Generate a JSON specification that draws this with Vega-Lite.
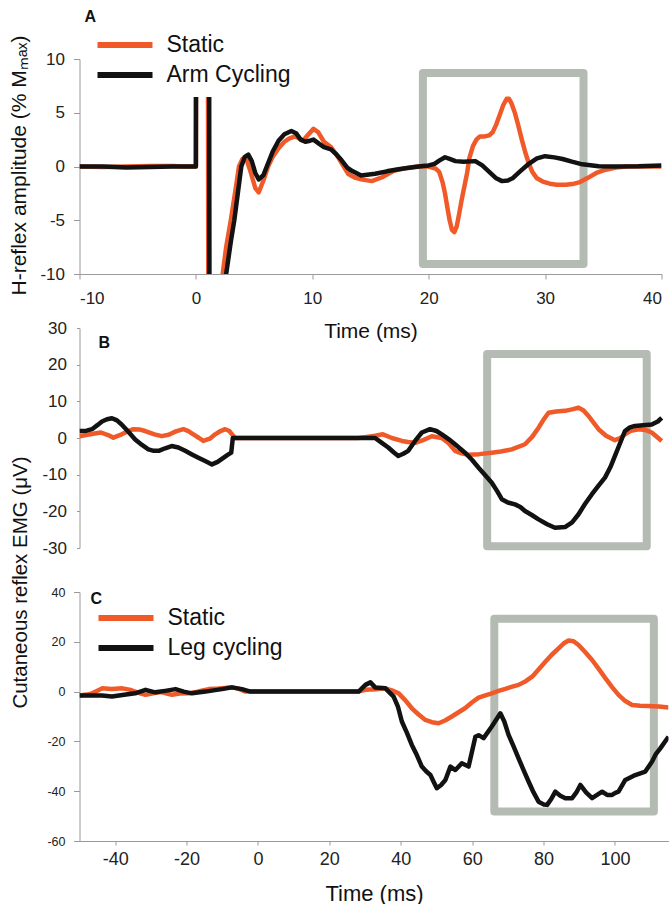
{
  "$schema": "https://vega.github.io/schema/vega-lite/v6.json",
  "autosize": {"type": "pad"},
  "padding": {"left": 7.5, "top": 9, "right": 0, "bottom": 0},
  "background": "white",
  "bounds": "flush",
  "spacing": 54,
  "resolve": {"scale": {"color": "independent"}, "legend": {"color": "independent"}},
  "config": {
    "font": "Liberation Sans",
    "view": {"stroke": null},
    "axis": {"grid": false, "domainColor": "#9a9a9a", "tickColor": "#9a9a9a", "labelColor": "#222222", "titleColor": "#111111", "titleFontWeight": "normal", "labelFont": "Liberation Sans", "titleFont": "Liberation Sans", "labelExpr": "replace(datum.label, '−', '-')"},
    "title": {"font": "Liberation Sans", "color": "#111111"}
  },
  "datasets": {
    "a": [
      {"s": "Static", "t": -10, "v": 0}, {"s": "Static", "t": -8, "v": -0.05}, {"s": "Static", "t": -6, "v": 0}, {"s": "Static", "t": -4, "v": 0.05}, {"s": "Static", "t": -2, "v": 0.05}, {"s": "Static", "t": -1, "v": 0}, {"s": "Static", "t": 0, "v": 0}, {"s": "Static", "t": 0.05, "v": 40}, {"s": "Static", "t": 1.0, "v": 40}, {"s": "Static", "t": 1.1, "v": -40}, {"s": "Static", "t": 1.8, "v": -40}, {"s": "Static", "t": 2.3, "v": -10}, {"s": "Static", "t": 2.6, "v": -7.5}, {"s": "Static", "t": 3.0, "v": -5}, {"s": "Static", "t": 3.4, "v": -2.2}, {"s": "Static", "t": 3.7, "v": 0}, {"s": "Static", "t": 4.0, "v": 0.7}, {"s": "Static", "t": 4.3, "v": 0.8}, {"s": "Static", "t": 4.7, "v": -0.5}, {"s": "Static", "t": 5.1, "v": -2}, {"s": "Static", "t": 5.4, "v": -2.4}, {"s": "Static", "t": 5.8, "v": -1.3}, {"s": "Static", "t": 6.2, "v": 0}, {"s": "Static", "t": 6.6, "v": 0.9}, {"s": "Static", "t": 7.1, "v": 1.7}, {"s": "Static", "t": 7.6, "v": 2.3}, {"s": "Static", "t": 8.0, "v": 2.6}, {"s": "Static", "t": 8.5, "v": 2.8}, {"s": "Static", "t": 8.9, "v": 2.6}, {"s": "Static", "t": 9.2, "v": 2.4}, {"s": "Static", "t": 9.6, "v": 2.9}, {"s": "Static", "t": 10.1, "v": 3.5}, {"s": "Static", "t": 10.5, "v": 3.2}, {"s": "Static", "t": 11.0, "v": 2.3}, {"s": "Static", "t": 11.6, "v": 1.8}, {"s": "Static", "t": 12.2, "v": 0.9}, {"s": "Static", "t": 12.7, "v": 0}, {"s": "Static", "t": 13.1, "v": -0.7}, {"s": "Static", "t": 13.6, "v": -1.0}, {"s": "Static", "t": 14.2, "v": -1.2}, {"s": "Static", "t": 15.1, "v": -1.36}, {"s": "Static", "t": 16.0, "v": -1.0}, {"s": "Static", "t": 17.0, "v": -0.4}, {"s": "Static", "t": 18.0, "v": -0.15}, {"s": "Static", "t": 19.0, "v": 0}, {"s": "Static", "t": 20.0, "v": 0}, {"s": "Static", "t": 20.6, "v": -0.2}, {"s": "Static", "t": 20.9, "v": -0.5}, {"s": "Static", "t": 21.2, "v": -1.5}, {"s": "Static", "t": 21.4, "v": -2.5}, {"s": "Static", "t": 21.6, "v": -3.8}, {"s": "Static", "t": 21.8, "v": -5}, {"s": "Static", "t": 22.0, "v": -5.9}, {"s": "Static", "t": 22.2, "v": -6.1}, {"s": "Static", "t": 22.4, "v": -5.6}, {"s": "Static", "t": 22.6, "v": -4.5}, {"s": "Static", "t": 22.8, "v": -3.3}, {"s": "Static", "t": 23.0, "v": -2.2}, {"s": "Static", "t": 23.3, "v": -0.6}, {"s": "Static", "t": 23.5, "v": 0.8}, {"s": "Static", "t": 23.8, "v": 1.9}, {"s": "Static", "t": 24.1, "v": 2.5}, {"s": "Static", "t": 24.4, "v": 2.8}, {"s": "Static", "t": 24.8, "v": 2.8}, {"s": "Static", "t": 25.2, "v": 2.9}, {"s": "Static", "t": 25.5, "v": 3.2}, {"s": "Static", "t": 25.8, "v": 3.9}, {"s": "Static", "t": 26.1, "v": 4.8}, {"s": "Static", "t": 26.4, "v": 5.7}, {"s": "Static", "t": 26.7, "v": 6.3}, {"s": "Static", "t": 26.9, "v": 6.3}, {"s": "Static", "t": 27.1, "v": 5.9}, {"s": "Static", "t": 27.4, "v": 5.0}, {"s": "Static", "t": 27.7, "v": 3.8}, {"s": "Static", "t": 28.0, "v": 2.5}, {"s": "Static", "t": 28.3, "v": 1.3}, {"s": "Static", "t": 28.6, "v": 0.3}, {"s": "Static", "t": 28.9, "v": -0.5}, {"s": "Static", "t": 29.3, "v": -1.1}, {"s": "Static", "t": 29.8, "v": -1.4}, {"s": "Static", "t": 30.4, "v": -1.6}, {"s": "Static", "t": 31.0, "v": -1.7}, {"s": "Static", "t": 31.8, "v": -1.7}, {"s": "Static", "t": 32.5, "v": -1.6}, {"s": "Static", "t": 33.0, "v": -1.45}, {"s": "Static", "t": 33.6, "v": -1.1}, {"s": "Static", "t": 34.4, "v": -0.6}, {"s": "Static", "t": 35.2, "v": -0.3}, {"s": "Static", "t": 36.1, "v": -0.1}, {"s": "Static", "t": 37, "v": 0}, {"s": "Static", "t": 38, "v": 0}, {"s": "Static", "t": 39, "v": 0}, {"s": "Static", "t": 40, "v": 0},
      {"s": "Arm Cycling", "t": -10, "v": 0}, {"s": "Arm Cycling", "t": -8, "v": 0}, {"s": "Arm Cycling", "t": -6, "v": -0.1}, {"s": "Arm Cycling", "t": -4, "v": -0.05}, {"s": "Arm Cycling", "t": -2, "v": 0}, {"s": "Arm Cycling", "t": 0, "v": 0}, {"s": "Arm Cycling", "t": 0.05, "v": 40}, {"s": "Arm Cycling", "t": 1.1, "v": 40}, {"s": "Arm Cycling", "t": 1.2, "v": -40}, {"s": "Arm Cycling", "t": 2.0, "v": -40}, {"s": "Arm Cycling", "t": 2.6, "v": -10}, {"s": "Arm Cycling", "t": 3.0, "v": -7}, {"s": "Arm Cycling", "t": 3.3, "v": -5}, {"s": "Arm Cycling", "t": 3.6, "v": -2.5}, {"s": "Arm Cycling", "t": 3.9, "v": 0}, {"s": "Arm Cycling", "t": 4.2, "v": 0.9}, {"s": "Arm Cycling", "t": 4.5, "v": 1.1}, {"s": "Arm Cycling", "t": 4.8, "v": 0.5}, {"s": "Arm Cycling", "t": 5.1, "v": -0.6}, {"s": "Arm Cycling", "t": 5.4, "v": -1.2}, {"s": "Arm Cycling", "t": 5.8, "v": -0.8}, {"s": "Arm Cycling", "t": 6.2, "v": 0.3}, {"s": "Arm Cycling", "t": 6.6, "v": 1.4}, {"s": "Arm Cycling", "t": 7.1, "v": 2.4}, {"s": "Arm Cycling", "t": 7.6, "v": 3.0}, {"s": "Arm Cycling", "t": 8.2, "v": 3.3}, {"s": "Arm Cycling", "t": 8.6, "v": 3.1}, {"s": "Arm Cycling", "t": 9.0, "v": 2.5}, {"s": "Arm Cycling", "t": 9.4, "v": 2.3}, {"s": "Arm Cycling", "t": 9.8, "v": 2.4}, {"s": "Arm Cycling", "t": 10.1, "v": 2.5}, {"s": "Arm Cycling", "t": 10.6, "v": 2.1}, {"s": "Arm Cycling", "t": 11.0, "v": 1.8}, {"s": "Arm Cycling", "t": 11.6, "v": 1.6}, {"s": "Arm Cycling", "t": 12.0, "v": 1.2}, {"s": "Arm Cycling", "t": 12.5, "v": 0.6}, {"s": "Arm Cycling", "t": 13.0, "v": -0.1}, {"s": "Arm Cycling", "t": 13.4, "v": -0.4}, {"s": "Arm Cycling", "t": 14.2, "v": -0.83}, {"s": "Arm Cycling", "t": 15.4, "v": -0.68}, {"s": "Arm Cycling", "t": 16.4, "v": -0.45}, {"s": "Arm Cycling", "t": 17.4, "v": -0.25}, {"s": "Arm Cycling", "t": 18.5, "v": -0.1}, {"s": "Arm Cycling", "t": 19.5, "v": 0.05}, {"s": "Arm Cycling", "t": 20.0, "v": 0.1}, {"s": "Arm Cycling", "t": 20.5, "v": 0.25}, {"s": "Arm Cycling", "t": 20.9, "v": 0.55}, {"s": "Arm Cycling", "t": 21.4, "v": 0.86}, {"s": "Arm Cycling", "t": 21.8, "v": 0.7}, {"s": "Arm Cycling", "t": 22.3, "v": 0.5}, {"s": "Arm Cycling", "t": 23.0, "v": 0.45}, {"s": "Arm Cycling", "t": 24.0, "v": 0.5}, {"s": "Arm Cycling", "t": 24.6, "v": 0.1}, {"s": "Arm Cycling", "t": 25.2, "v": -0.5}, {"s": "Arm Cycling", "t": 25.8, "v": -1.1}, {"s": "Arm Cycling", "t": 26.3, "v": -1.36}, {"s": "Arm Cycling", "t": 26.8, "v": -1.3}, {"s": "Arm Cycling", "t": 27.2, "v": -1.1}, {"s": "Arm Cycling", "t": 27.8, "v": -0.5}, {"s": "Arm Cycling", "t": 28.6, "v": 0.25}, {"s": "Arm Cycling", "t": 29.3, "v": 0.75}, {"s": "Arm Cycling", "t": 30.0, "v": 0.96}, {"s": "Arm Cycling", "t": 30.8, "v": 0.85}, {"s": "Arm Cycling", "t": 31.5, "v": 0.7}, {"s": "Arm Cycling", "t": 32.3, "v": 0.45}, {"s": "Arm Cycling", "t": 33.2, "v": 0.2}, {"s": "Arm Cycling", "t": 34.6, "v": 0.03}, {"s": "Arm Cycling", "t": 36, "v": 0}, {"s": "Arm Cycling", "t": 38, "v": 0.02}, {"s": "Arm Cycling", "t": 40, "v": 0.1}
    ],
    "b": [
      {"s": "Static", "t": -50, "v": 0.5}, {"s": "Static", "t": -47, "v": 1}, {"s": "Static", "t": -44, "v": 1.5}, {"s": "Static", "t": -42, "v": 0.8}, {"s": "Static", "t": -40.5, "v": 0.1}, {"s": "Static", "t": -38.2, "v": 1}, {"s": "Static", "t": -36.5, "v": 1.8}, {"s": "Static", "t": -34.9, "v": 2.4}, {"s": "Static", "t": -33, "v": 2.3}, {"s": "Static", "t": -31.6, "v": 1.9}, {"s": "Static", "t": -29, "v": 1.0}, {"s": "Static", "t": -27, "v": 0.5}, {"s": "Static", "t": -25, "v": 0.9}, {"s": "Static", "t": -23, "v": 1.8}, {"s": "Static", "t": -20.9, "v": 2.4}, {"s": "Static", "t": -19.5, "v": 1.9}, {"s": "Static", "t": -18.1, "v": 1}, {"s": "Static", "t": -16.5, "v": 0}, {"s": "Static", "t": -15.3, "v": -0.8}, {"s": "Static", "t": -13.5, "v": -0.2}, {"s": "Static", "t": -12, "v": 1}, {"s": "Static", "t": -10.5, "v": 1.9}, {"s": "Static", "t": -9.2, "v": 2.4}, {"s": "Static", "t": -8, "v": 1.9}, {"s": "Static", "t": -7.3, "v": 1}, {"s": "Static", "t": -6.4, "v": 0}, {"s": "Static", "t": 0, "v": 0}, {"s": "Static", "t": 10, "v": 0}, {"s": "Static", "t": 20, "v": 0}, {"s": "Static", "t": 28, "v": 0}, {"s": "Static", "t": 30.5, "v": 0.3}, {"s": "Static", "t": 32.8, "v": 0.6}, {"s": "Static", "t": 35, "v": 1}, {"s": "Static", "t": 37.5, "v": 0}, {"s": "Static", "t": 40.3, "v": -0.8}, {"s": "Static", "t": 42, "v": -1.1}, {"s": "Static", "t": 44, "v": -1.3}, {"s": "Static", "t": 46.5, "v": -0.5}, {"s": "Static", "t": 48.7, "v": 0.5}, {"s": "Static", "t": 51.5, "v": 0}, {"s": "Static", "t": 53.5, "v": -1.5}, {"s": "Static", "t": 55.2, "v": -3.5}, {"s": "Static", "t": 57, "v": -4.2}, {"s": "Static", "t": 59, "v": -4.6}, {"s": "Static", "t": 62, "v": -4.4}, {"s": "Static", "t": 65.5, "v": -4}, {"s": "Static", "t": 68, "v": -3.7}, {"s": "Static", "t": 71.1, "v": -3.1}, {"s": "Static", "t": 74.8, "v": -1.7}, {"s": "Static", "t": 76.8, "v": 0.3}, {"s": "Static", "t": 78.6, "v": 2.8}, {"s": "Static", "t": 80, "v": 5}, {"s": "Static", "t": 81.4, "v": 6.9}, {"s": "Static", "t": 83.5, "v": 7.2}, {"s": "Static", "t": 86, "v": 7.4}, {"s": "Static", "t": 88, "v": 7.8}, {"s": "Static", "t": 89.8, "v": 8.3}, {"s": "Static", "t": 91.2, "v": 7.5}, {"s": "Static", "t": 92.6, "v": 6}, {"s": "Static", "t": 94, "v": 4.2}, {"s": "Static", "t": 95.4, "v": 2.4}, {"s": "Static", "t": 97.5, "v": 0.6}, {"s": "Static", "t": 100, "v": -0.6}, {"s": "Static", "t": 101.5, "v": 0}, {"s": "Static", "t": 102.8, "v": 1}, {"s": "Static", "t": 104.5, "v": 2}, {"s": "Static", "t": 106.6, "v": 2.4}, {"s": "Static", "t": 108.5, "v": 2.2}, {"s": "Static", "t": 110.3, "v": 1.5}, {"s": "Static", "t": 113.1, "v": -0.8},
      {"s": "Arm Cycling", "t": -50, "v": 1.9}, {"s": "Arm Cycling", "t": -48, "v": 2.0}, {"s": "Arm Cycling", "t": -46.5, "v": 2.4}, {"s": "Arm Cycling", "t": -45, "v": 3.5}, {"s": "Arm Cycling", "t": -43.7, "v": 4.5}, {"s": "Arm Cycling", "t": -42.3, "v": 5.1}, {"s": "Arm Cycling", "t": -40.9, "v": 5.4}, {"s": "Arm Cycling", "t": -39.5, "v": 4.8}, {"s": "Arm Cycling", "t": -38.2, "v": 3.7}, {"s": "Arm Cycling", "t": -36.3, "v": 1.7}, {"s": "Arm Cycling", "t": -34.4, "v": -0.4}, {"s": "Arm Cycling", "t": -32.5, "v": -1.9}, {"s": "Arm Cycling", "t": -30.7, "v": -3.1}, {"s": "Arm Cycling", "t": -29.2, "v": -3.5}, {"s": "Arm Cycling", "t": -27.8, "v": -3.5}, {"s": "Arm Cycling", "t": -26, "v": -2.8}, {"s": "Arm Cycling", "t": -24.2, "v": -2.2}, {"s": "Arm Cycling", "t": -22.3, "v": -2.6}, {"s": "Arm Cycling", "t": -20.4, "v": -3.5}, {"s": "Arm Cycling", "t": -18.5, "v": -4.5}, {"s": "Arm Cycling", "t": -16.7, "v": -5.4}, {"s": "Arm Cycling", "t": -14.8, "v": -6.3}, {"s": "Arm Cycling", "t": -12.9, "v": -7.2}, {"s": "Arm Cycling", "t": -11.3, "v": -6.5}, {"s": "Arm Cycling", "t": -9.7, "v": -5.4}, {"s": "Arm Cycling", "t": -8.5, "v": -4.6}, {"s": "Arm Cycling", "t": -7.5, "v": -4}, {"s": "Arm Cycling", "t": -7.05, "v": 0}, {"s": "Arm Cycling", "t": 0, "v": 0}, {"s": "Arm Cycling", "t": 10, "v": 0}, {"s": "Arm Cycling", "t": 20, "v": 0}, {"s": "Arm Cycling", "t": 30, "v": 0}, {"s": "Arm Cycling", "t": 32.8, "v": 0}, {"s": "Arm Cycling", "t": 34.5, "v": -1.2}, {"s": "Arm Cycling", "t": 36.5, "v": -2.6}, {"s": "Arm Cycling", "t": 38, "v": -3.9}, {"s": "Arm Cycling", "t": 39.3, "v": -4.9}, {"s": "Arm Cycling", "t": 40.7, "v": -4.3}, {"s": "Arm Cycling", "t": 42.1, "v": -3.5}, {"s": "Arm Cycling", "t": 44, "v": -0.8}, {"s": "Arm Cycling", "t": 45.9, "v": 1.5}, {"s": "Arm Cycling", "t": 48.2, "v": 2.4}, {"s": "Arm Cycling", "t": 50, "v": 1.9}, {"s": "Arm Cycling", "t": 51.5, "v": 1}, {"s": "Arm Cycling", "t": 53.4, "v": -0.3}, {"s": "Arm Cycling", "t": 55.2, "v": -1.7}, {"s": "Arm Cycling", "t": 58, "v": -4}, {"s": "Arm Cycling", "t": 60, "v": -6}, {"s": "Arm Cycling", "t": 61.8, "v": -8.1}, {"s": "Arm Cycling", "t": 63.6, "v": -10.1}, {"s": "Arm Cycling", "t": 65.5, "v": -12.2}, {"s": "Arm Cycling", "t": 67, "v": -14.5}, {"s": "Arm Cycling", "t": 68.3, "v": -16.7}, {"s": "Arm Cycling", "t": 70, "v": -17.6}, {"s": "Arm Cycling", "t": 72, "v": -18.1}, {"s": "Arm Cycling", "t": 73.5, "v": -18.8}, {"s": "Arm Cycling", "t": 74.8, "v": -19.9}, {"s": "Arm Cycling", "t": 76.7, "v": -21}, {"s": "Arm Cycling", "t": 78.6, "v": -22.2}, {"s": "Arm Cycling", "t": 81, "v": -23.5}, {"s": "Arm Cycling", "t": 83.2, "v": -24.5}, {"s": "Arm Cycling", "t": 86, "v": -24.3}, {"s": "Arm Cycling", "t": 88, "v": -23}, {"s": "Arm Cycling", "t": 89.8, "v": -20.8}, {"s": "Arm Cycling", "t": 91.6, "v": -18}, {"s": "Arm Cycling", "t": 93.5, "v": -15.4}, {"s": "Arm Cycling", "t": 95.4, "v": -13}, {"s": "Arm Cycling", "t": 97.2, "v": -10.8}, {"s": "Arm Cycling", "t": 98.7, "v": -8}, {"s": "Arm Cycling", "t": 100, "v": -4.9}, {"s": "Arm Cycling", "t": 101.4, "v": -1.5}, {"s": "Arm Cycling", "t": 102.8, "v": 1.9}, {"s": "Arm Cycling", "t": 104.2, "v": 2.9}, {"s": "Arm Cycling", "t": 105.6, "v": 3.3}, {"s": "Arm Cycling", "t": 107.9, "v": 3.5}, {"s": "Arm Cycling", "t": 110.3, "v": 3.7}, {"s": "Arm Cycling", "t": 112, "v": 4.5}, {"s": "Arm Cycling", "t": 113.1, "v": 5.5}
    ],
    "c": [
      {"s": "Static", "t": -50, "v": -1.6}, {"s": "Static", "t": -48, "v": -1.2}, {"s": "Static", "t": -46.5, "v": -0.7}, {"s": "Static", "t": -45, "v": 0.3}, {"s": "Static", "t": -43.7, "v": 1.3}, {"s": "Static", "t": -41, "v": 1.0}, {"s": "Static", "t": -38, "v": 1.3}, {"s": "Static", "t": -36, "v": 0.8}, {"s": "Static", "t": -34.4, "v": 0}, {"s": "Static", "t": -33, "v": -0.7}, {"s": "Static", "t": -31.5, "v": -1.3}, {"s": "Static", "t": -29, "v": -0.6}, {"s": "Static", "t": -27, "v": -0.2}, {"s": "Static", "t": -25.5, "v": -0.8}, {"s": "Static", "t": -24.1, "v": -1.3}, {"s": "Static", "t": -22, "v": -0.8}, {"s": "Static", "t": -19.4, "v": -0.7}, {"s": "Static", "t": -17, "v": 0}, {"s": "Static", "t": -15.5, "v": 0.5}, {"s": "Static", "t": -13.8, "v": 1}, {"s": "Static", "t": -11, "v": 1.2}, {"s": "Static", "t": -9, "v": 1.5}, {"s": "Static", "t": -7.3, "v": 1.7}, {"s": "Static", "t": -5.5, "v": 1.2}, {"s": "Static", "t": -3.5, "v": 0}, {"s": "Static", "t": 0, "v": 0}, {"s": "Static", "t": 10, "v": 0}, {"s": "Static", "t": 20, "v": 0}, {"s": "Static", "t": 28, "v": 0}, {"s": "Static", "t": 30.1, "v": 0.7}, {"s": "Static", "t": 33, "v": 0.9}, {"s": "Static", "t": 35.7, "v": 1.3}, {"s": "Static", "t": 37.5, "v": 0.5}, {"s": "Static", "t": 39.4, "v": -0.7}, {"s": "Static", "t": 41.3, "v": -3.5}, {"s": "Static", "t": 43.1, "v": -6.7}, {"s": "Static", "t": 45, "v": -9.2}, {"s": "Static", "t": 46.9, "v": -11.4}, {"s": "Static", "t": 48.7, "v": -12.3}, {"s": "Static", "t": 50.6, "v": -12.7}, {"s": "Static", "t": 52.4, "v": -11.6}, {"s": "Static", "t": 54.3, "v": -10}, {"s": "Static", "t": 56.2, "v": -8.3}, {"s": "Static", "t": 58, "v": -6.7}, {"s": "Static", "t": 60, "v": -4.3}, {"s": "Static", "t": 61.8, "v": -2.4}, {"s": "Static", "t": 63.7, "v": -1.5}, {"s": "Static", "t": 65.5, "v": -0.7}, {"s": "Static", "t": 67.4, "v": 0.3}, {"s": "Static", "t": 69.3, "v": 1.1}, {"s": "Static", "t": 71, "v": 1.9}, {"s": "Static", "t": 73, "v": 2.7}, {"s": "Static", "t": 75, "v": 4.2}, {"s": "Static", "t": 76.8, "v": 6}, {"s": "Static", "t": 78.6, "v": 8.9}, {"s": "Static", "t": 80.5, "v": 12}, {"s": "Static", "t": 82.3, "v": 14.8}, {"s": "Static", "t": 84.2, "v": 17.4}, {"s": "Static", "t": 85.6, "v": 19.3}, {"s": "Static", "t": 87, "v": 20.5}, {"s": "Static", "t": 88.4, "v": 20.2}, {"s": "Static", "t": 89.8, "v": 18.7}, {"s": "Static", "t": 91.7, "v": 15.8}, {"s": "Static", "t": 93.6, "v": 12.7}, {"s": "Static", "t": 95.5, "v": 9}, {"s": "Static", "t": 97.3, "v": 5.4}, {"s": "Static", "t": 99.2, "v": 1.8}, {"s": "Static", "t": 101, "v": -1.3}, {"s": "Static", "t": 102.9, "v": -3.8}, {"s": "Static", "t": 104.8, "v": -5.4}, {"s": "Static", "t": 107, "v": -5.7}, {"s": "Static", "t": 109.4, "v": -5.8}, {"s": "Static", "t": 112.3, "v": -6.0}, {"s": "Static", "t": 115, "v": -6.4},
      {"s": "Leg cycling", "t": -50, "v": -1.6}, {"s": "Leg cycling", "t": -47, "v": -1.6}, {"s": "Leg cycling", "t": -43.7, "v": -1.6}, {"s": "Leg cycling", "t": -40.9, "v": -2}, {"s": "Leg cycling", "t": -38, "v": -1.4}, {"s": "Leg cycling", "t": -34.4, "v": -0.7}, {"s": "Leg cycling", "t": -31.5, "v": 0.7}, {"s": "Leg cycling", "t": -28.8, "v": -0.3}, {"s": "Leg cycling", "t": -26, "v": 0.3}, {"s": "Leg cycling", "t": -23.1, "v": 1}, {"s": "Leg cycling", "t": -20.8, "v": 0}, {"s": "Leg cycling", "t": -18.5, "v": -0.7}, {"s": "Leg cycling", "t": -14.7, "v": 0}, {"s": "Leg cycling", "t": -12, "v": 0.6}, {"s": "Leg cycling", "t": -10.1, "v": 1}, {"s": "Leg cycling", "t": -7.3, "v": 1.7}, {"s": "Leg cycling", "t": -4.5, "v": 1}, {"s": "Leg cycling", "t": -2.1, "v": 0}, {"s": "Leg cycling", "t": 0, "v": 0}, {"s": "Leg cycling", "t": 10, "v": 0}, {"s": "Leg cycling", "t": 20, "v": 0}, {"s": "Leg cycling", "t": 28.2, "v": 0}, {"s": "Leg cycling", "t": 30.1, "v": 2.7}, {"s": "Leg cycling", "t": 31.5, "v": 3.7}, {"s": "Leg cycling", "t": 32.9, "v": 1.6}, {"s": "Leg cycling", "t": 35.7, "v": 1.3}, {"s": "Leg cycling", "t": 38, "v": -2}, {"s": "Leg cycling", "t": 39.2, "v": -6}, {"s": "Leg cycling", "t": 40.3, "v": -12}, {"s": "Leg cycling", "t": 41.7, "v": -16.5}, {"s": "Leg cycling", "t": 43.1, "v": -21.4}, {"s": "Leg cycling", "t": 44.5, "v": -25.5}, {"s": "Leg cycling", "t": 45.9, "v": -30.1}, {"s": "Leg cycling", "t": 47.1, "v": -32}, {"s": "Leg cycling", "t": 48.3, "v": -33.5}, {"s": "Leg cycling", "t": 49.3, "v": -36.5}, {"s": "Leg cycling", "t": 50.1, "v": -38.8}, {"s": "Leg cycling", "t": 51.3, "v": -37.5}, {"s": "Leg cycling", "t": 52.5, "v": -35.5}, {"s": "Leg cycling", "t": 53.9, "v": -30.1}, {"s": "Leg cycling", "t": 55.3, "v": -31.5}, {"s": "Leg cycling", "t": 57.1, "v": -28.8}, {"s": "Leg cycling", "t": 59, "v": -30.1}, {"s": "Leg cycling", "t": 60.9, "v": -18.1}, {"s": "Leg cycling", "t": 61.8, "v": -17.5}, {"s": "Leg cycling", "t": 63.2, "v": -18.7}, {"s": "Leg cycling", "t": 65.5, "v": -14}, {"s": "Leg cycling", "t": 67.9, "v": -8.7}, {"s": "Leg cycling", "t": 69, "v": -12}, {"s": "Leg cycling", "t": 70.2, "v": -17.4}, {"s": "Leg cycling", "t": 71.6, "v": -22}, {"s": "Leg cycling", "t": 73, "v": -26.8}, {"s": "Leg cycling", "t": 74.4, "v": -31.5}, {"s": "Leg cycling", "t": 75.8, "v": -36.1}, {"s": "Leg cycling", "t": 77.2, "v": -40.5}, {"s": "Leg cycling", "t": 78.6, "v": -44.2}, {"s": "Leg cycling", "t": 80, "v": -45.3}, {"s": "Leg cycling", "t": 81, "v": -45.5}, {"s": "Leg cycling", "t": 82.2, "v": -43}, {"s": "Leg cycling", "t": 83.3, "v": -40.2}, {"s": "Leg cycling", "t": 84.7, "v": -41.8}, {"s": "Leg cycling", "t": 86.1, "v": -42.8}, {"s": "Leg cycling", "t": 88, "v": -42.8}, {"s": "Leg cycling", "t": 89.2, "v": -40.5}, {"s": "Leg cycling", "t": 90.3, "v": -37.5}, {"s": "Leg cycling", "t": 91.9, "v": -40.5}, {"s": "Leg cycling", "t": 93.6, "v": -42.8}, {"s": "Leg cycling", "t": 95, "v": -41.5}, {"s": "Leg cycling", "t": 96.4, "v": -40.2}, {"s": "Leg cycling", "t": 97.8, "v": -41.5}, {"s": "Leg cycling", "t": 99.2, "v": -41.5}, {"s": "Leg cycling", "t": 100.1, "v": -40.7}, {"s": "Leg cycling", "t": 101, "v": -40.2}, {"s": "Leg cycling", "t": 102.9, "v": -35.5}, {"s": "Leg cycling", "t": 104.3, "v": -34.5}, {"s": "Leg cycling", "t": 105.7, "v": -33.5}, {"s": "Leg cycling", "t": 107.1, "v": -32.8}, {"s": "Leg cycling", "t": 108.5, "v": -32.1}, {"s": "Leg cycling", "t": 110.4, "v": -28.1}, {"s": "Leg cycling", "t": 111.5, "v": -25}, {"s": "Leg cycling", "t": 112.7, "v": -22.8}, {"s": "Leg cycling", "t": 115, "v": -18.1}
    ]
  },
  "vconcat": [
    {
      "width": 582,
      "height": 215,
      "title": {"text": "A", "anchor": "start", "frame": "group", "fontSize": 16, "fontWeight": "bold", "baseline": "alphabetic", "offset": 0, "dx": 5, "dy": 17},
      "encoding": {
        "x": {"field": "t", "type": "quantitative", "scale": {"domain": [-10, 40], "nice": false, "zero": false},
              "axis": {"values": [-10, 0, 10, 20, 30, 40], "labelFontSize": 17, "tickSize": 5, "labelPadding": 11, "title": "Time (ms)", "titleFontSize": 21, "titleBaseline": "alphabetic", "titleY": 63}},
        "y": {"field": "v", "type": "quantitative", "scale": {"domain": [-10, 10], "nice": false, "zero": false},
              "axis": {"values": [-10, -5, 0, 5, 10], "labelFontSize": 17, "tickSize": 6, "labelPadding": 9, "title": "H-reflex amplitude (% Mₘₐₓ)", "titleFontSize": 21, "titleBaseline": "alphabetic", "titleX": -54, "titleY": 106}}
      },
      "layer": [
        {"data": {"values": [{"t": 19.5, "t2": 33.3, "v": -9.07, "v2": 8.7}]},
         "mark": {"type": "rect", "filled": false, "stroke": "#b4bbb3", "strokeWidth": 8, "strokeJoin": "round"},
         "encoding": {"x2": {"field": "t2"}, "y2": {"field": "v2"}}},
        {"data": {"name": "a"},
         "mark": {"type": "line", "clip": true, "strokeWidth": 4.5, "strokeJoin": "round"},
         "encoding": {"color": {"field": "s", "type": "nominal",
            "scale": {"domain": ["Static", "Arm Cycling"], "range": ["#f05a28", "#121212"]},
            "legend": {"title": null, "orient": "none", "legendX": 21.5, "legendY": -38, "symbolType": "M-2.5,0H2.5", "symbolSize": 484, "symbolStrokeWidth": 6, "labelFontSize": 23, "labelFont": "Liberation Sans", "labelColor": "#111111", "labelOffset": 27.5, "rowPadding": 4, "padding": 10, "fillColor": "white"}}}}
      ]
    },
    {
      "bounds": "flush",
      "spacing": 44,
      "resolve": {"scale": {"color": "independent"}, "legend": {"color": "independent"}},
      "vconcat": [
        {
          "width": 589,
          "height": 220,
          "title": {"text": "B", "anchor": "start", "frame": "group", "fontSize": 16, "fontWeight": "bold", "baseline": "alphabetic", "offset": 0, "dy": 45, "dx": 19},
          "encoding": {
            "x": {"field": "t", "type": "quantitative", "scale": {"domain": [-50, 115], "nice": false, "zero": false}, "axis": null},
            "y": {"field": "v", "type": "quantitative", "scale": {"domain": [-30, 30], "nice": false, "zero": false},
                  "axis": {"values": [-30, -20, -10, 0, 10, 20, 30], "labelFontSize": 17, "tickSize": 3, "labelPadding": 10, "title": "Cutaneous reflex EMG (μV)", "titleFontSize": 20.5, "titleBaseline": "alphabetic", "titleX": -53, "titleY": 254}}
          },
          "layer": [
            {"data": {"values": [{"t": 64.2, "t2": 108.9, "v": -29.5, "v2": 22.9}]},
             "mark": {"type": "rect", "filled": false, "stroke": "#b4bbb3", "strokeWidth": 8, "strokeJoin": "round"},
             "encoding": {"x2": {"field": "t2"}, "y2": {"field": "v2"}}},
            {"data": {"name": "b"},
             "mark": {"type": "line", "clip": true, "strokeWidth": 4.5, "strokeJoin": "round"},
             "encoding": {"color": {"field": "s", "type": "nominal",
                "scale": {"domain": ["Static", "Arm Cycling"], "range": ["#f05a28", "#121212"]}, "legend": null}}}
          ]
        },
        {
          "width": 589,
          "height": 249,
          "title": {"text": "C", "anchor": "start", "frame": "group", "fontSize": 16, "fontWeight": "bold", "baseline": "alphabetic", "offset": 0, "dy": 34, "dx": 11},
          "encoding": {
            "x": {"field": "t", "type": "quantitative", "scale": {"domain": [-50, 115], "nice": false, "zero": false},
                  "axis": {"values": [-40, -20, 0, 20, 40, 60, 80, 100], "labelFontSize": 18, "tickSize": 4, "labelPadding": 5, "title": "Time (ms)", "titleFontSize": 22, "titleBaseline": "alphabetic", "titleY": 59}},
            "y": {"field": "v", "type": "quantitative", "scale": {"domain": [-60, 40], "nice": false, "zero": false},
                  "axis": {"values": [-60, -40, -20, 0, 20, 40], "labelFontSize": 12.5, "tickSize": 6, "labelPadding": 8.5, "title": null}}
          },
          "layer": [
            {"data": {"values": [{"t": 66.2, "t2": 110.9, "v": -48.2, "v2": 29.3}]},
             "mark": {"type": "rect", "filled": false, "stroke": "#b4bbb3", "strokeWidth": 8, "strokeJoin": "round"},
             "encoding": {"x2": {"field": "t2"}, "y2": {"field": "v2"}}},
            {"data": {"name": "c"},
             "mark": {"type": "line", "clip": true, "strokeWidth": 4.5, "strokeJoin": "round"},
             "encoding": {"color": {"field": "s", "type": "nominal",
                "scale": {"domain": ["Static", "Leg cycling"], "range": ["#f05a28", "#121212"]},
                "legend": {"title": null, "orient": "none", "legendX": 22.5, "legendY": 2, "symbolType": "M-2.5,0H2.5", "symbolSize": 484, "symbolStrokeWidth": 6, "labelFontSize": 23, "labelFont": "Liberation Sans", "labelColor": "#111111", "labelOffset": 27.5, "rowPadding": 4, "padding": 10}}}}
          ]
        }
      ]
    }
  ]
}
